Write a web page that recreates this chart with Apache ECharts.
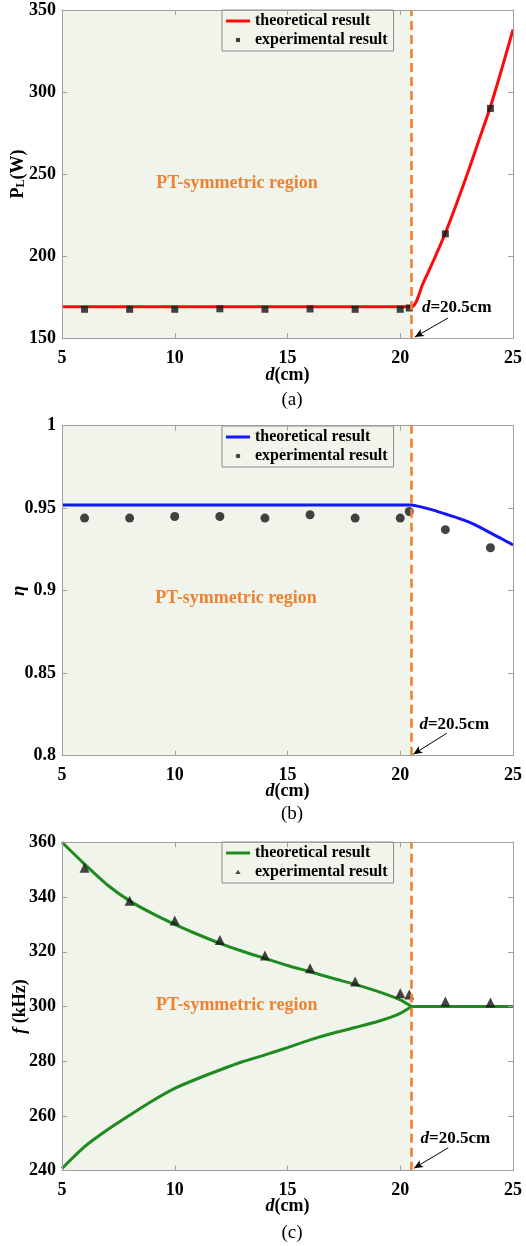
<!DOCTYPE html>
<html>
<head>
<meta charset="utf-8">
<script src="https://cdn.jsdelivr.net/npm/echarts@6/dist/echarts.min.js"></script>
<style>
  html, body { margin: 0; padding: 0; background: #fff; }
  .panel { position: absolute; left: 0; width: 526px; }
</style>
</head>
<body>
<div class="panel" id="pa" style="top:0;height:415px"></div>
<div class="panel" id="pb" style="top:415px;height:410px"></div>
<div class="panel" id="pc" style="top:825px;height:421px"></div>
<script>
// ---- data ----
const xRange = [5, 25, 5];           // min, max, interval of d (cm)
const dTheory = [5, 20.5, 21, 21.5, 22, 22.5, 23, 23.5, 24, 24.5, 25];
const dExp = [6, 8, 10, 12, 14, 16, 18, 20, 20.4, 22, 24];

// (a) load power
const pRange = [150, 350, 50];
const pTheory = [169, 169, 183, 198, 214, 232, 251, 271, 291, 314, 338];
const pExp = [167.5, 167.5, 167.5, 167.8, 167.5, 167.7, 167.5, 167.5, 168.3, 213.5, 290];

// (b) efficiency
const etaRange = [0.8, 1, 0.05];
const etaTheory = [0.952, 0.952, 0.9505, 0.9487, 0.9465, 0.9443, 0.9418, 0.9387, 0.935, 0.9315, 0.9277];
const etaExp = [0.944, 0.944, 0.945, 0.945, 0.944, 0.946, 0.944, 0.944, 0.948, 0.937, 0.926];

// (c) frequency
const fRange = [240, 360, 20];
const dBranch = [5, 6, 7, 8, 9, 10, 11, 12, 13, 14, 15, 16, 17, 18, 19, 20, 20.5];
const fUpper = [360, 352, 344.5, 338.6, 334, 330, 326.4, 323.1, 320.2, 317.6, 315, 312.7, 310.3, 308.1, 305.5, 302.4, 300];
const fLower = [240.8, 248.8, 254.9, 260.3, 265.5, 270.1, 273.6, 276.8, 279.8, 282.3, 285, 287.8, 290.2, 292.3, 294.5, 297.5, 300];
const dFlat = [20.5, 25];
const fFlat = [300, 300];
const fExp = [350.7, 338.6, 331.4, 324.3, 318.6, 314, 309.1, 304.8, 304.4, 301.8, 301.5];

const dBoundary = 20.5;

// ---- styling ----
const serif = "'Liberation Serif', 'Times New Roman', serif";
const orange = '#ee8232';
const frame = '#a0a0a0';
const shade = '#f1f4ea';
const lineIcon = 'path://M0,0M24,14M0,5.5h24v3h-24z';

const zip = (xs, ys) => xs.map((x, i) => [x, ys[i]]);

function axisBase(range) {
  return {
    type: 'value', min: range[0], max: range[1], interval: range[2], z: 6,
    axisLine: { show: true, onZero: false, lineStyle: { color: frame, width: 1 } },
    axisTick: { show: true, inside: true, length: 5, lineStyle: { color: frame } },
    splitLine: { show: false }
  };
}

const tickLabel = { color: '#000', fontFamily: serif, fontWeight: 'bold', fontSize: 18 };

function buildOption(p) {
  return {
    animation: false,
    title: {
      text: p.caption, left: 287, top: p.captionTop, textAlign: 'center',
      textStyle: { fontFamily: serif, fontWeight: 'normal', fontSize: 19, color: '#000' }
    },
    grid: { left: 62, right: 13, top: p.gridTop, height: p.gridHeight, outerBoundsMode: 'none', containLabel: false },
    legend: {
      left: 222, top: p.legendTop, orient: 'vertical',
      padding: [3, 6, 3, 4], itemGap: 3, itemWidth: 24, itemHeight: 14,
      borderColor: '#8a8a8a', borderWidth: 1,
      textStyle: { fontFamily: serif, fontWeight: 'bold', fontSize: 16, color: '#000' },
      data: [{ name: 'theoretical result', icon: lineIcon }, { name: 'experimental result', icon: p.legendIcon }]
    },
    xAxis: [
      Object.assign(axisBase(xRange), {
        position: 'bottom',
        axisLabel: Object.assign({ margin: 11 }, tickLabel),
        name: '{i|d}(cm)', nameLocation: 'middle', nameGap: p.xNameGap, nameMoveOverlap: false,
        nameTextStyle: {
          fontFamily: serif, fontWeight: 'bold', fontSize: 18, color: '#000',
          rich: { i: { fontFamily: serif, fontWeight: 'bold', fontStyle: 'italic', fontSize: 18 } }
        }
      }),
      Object.assign(axisBase(xRange), { position: 'top', axisLabel: { show: false } })
    ],
    yAxis: [
      Object.assign(axisBase(p.yRange), {
        position: 'left',
        axisLabel: Object.assign({ margin: 6 }, tickLabel),
        name: p.yName, nameLocation: 'middle', nameGap: p.yNameGap, nameMoveOverlap: false,
        nameTextStyle: {
          fontFamily: serif, fontWeight: 'bold', fontSize: 18, color: '#000',
          rich: p.yRich
        }
      }),
      Object.assign(axisBase(p.yRange), { position: 'right', axisLabel: { show: false } })
    ],
    series: [
      {
        // shaded PT-symmetric region
        name: 'bg', type: 'line', data: [], z: 1, silent: true,
        markArea: {
          silent: true, itemStyle: { color: shade },
          data: [[{ xAxis: xRange[0] }, { xAxis: dBoundary }]]
        }
      }
    ].concat(p.series).concat([
      {
        name: 'notes', type: 'line', data: [], z: 8, silent: true,
        markLine: {
          silent: true, symbol: ['none', 'none'], animation: false,
          label: { show: false },
          data: [
            { xAxis: dBoundary, lineStyle: { color: orange, width: 2.6, type: [9, 5] } },
            [
              { coord: p.arrowFrom, symbol: 'none', lineStyle: { color: '#000', width: 1, type: 'solid' } },
              { coord: p.arrowTo, symbol: 'arrow', symbolSize: [6, 9] }
            ]
          ]
        },
        markPoint: {
          silent: true, symbol: 'circle', symbolSize: 0,
          data: [
            {
              coord: p.ptCoord,
              label: {
                show: true, position: 'inside', formatter: 'PT-symmetric region',
                fontFamily: serif, fontWeight: 'bold', fontSize: 18, color: orange
              }
            },
            {
              coord: p.noteCoord,
              label: {
                show: true, position: 'right', distance: 0, formatter: '{i|d}=20.5cm',
                fontFamily: serif, fontWeight: 'bold', fontSize: 17, color: '#000',
                rich: { i: { fontFamily: serif, fontWeight: 'bold', fontStyle: 'italic', fontSize: 17, color: '#000' } }
              }
            }
          ]
        }
      }
    ])
  };
}

function theory(data, color) {
  return {
    name: 'theoretical result', type: 'line', data: data, z: 3,
    symbol: 'none', symbolKeepAspect: true, smooth: 0.2,
    lineStyle: { color: color, width: 3 }, itemStyle: { color: color }
  };
}

function experiment(data, symbol, size) {
  return {
    name: 'experimental result', type: 'scatter', data: data, z: 4,
    symbol: symbol, symbolSize: size, symbolKeepAspect: true,
    itemStyle: { color: '#151515' }
  };
}

// (a)
{
  let chart = echarts.init(document.getElementById('pa'));
  chart.setOption(buildOption({
    caption: '(a)', captionTop: 386, gridTop: 10, gridHeight: 328, legendTop: 10,
    legendIcon: 'path://M0,0M24,24M8.5,8.5h7v7h-7z',
    xNameGap: 28, yRange: pRange, yNameGap: 35,
    yName: '{b|P}{s|L}{b|(W)}',
    yRich: {
      b: { fontFamily: serif, fontWeight: 'bold', fontSize: 18, lineHeight: 18, verticalAlign: 'middle' },
      s: { fontFamily: serif, fontWeight: 'bold', fontSize: 12, lineHeight: 12, verticalAlign: 'bottom' }
    },
    series: [theory(zip(dTheory, pTheory), '#ff0a0a'), experiment(zip(dExp, pExp), 'rect', 7)],
    ptCoord: [12.76, 244], noteCoord: [20.96, 168.3],
    arrowFrom: [22.12, 162.2], arrowTo: [20.65, 150.6]
  }));
}

// (b)
{
  let chart = echarts.init(document.getElementById('pb'));
  chart.setOption(buildOption({
    caption: '(b)', captionTop: 385, gridTop: 10.7, gridHeight: 330, legendTop: 11,
    legendIcon: 'path://M0,0M24,24M8,12a4,4 0 1,0 8,0a4,4 0 1,0 -8,0z',
    xNameGap: 27, yRange: etaRange, yNameGap: 33,
    yName: '{i|η}',
    yRich: { i: { fontFamily: serif, fontWeight: 'bold', fontStyle: 'italic', fontSize: 19 } },
    series: [theory(zip(dTheory, etaTheory), '#1414ff'), experiment(zip(dExp, etaExp), 'circle', 9)],
    ptCoord: [12.72, 0.8954], noteCoord: [20.85, 0.8186],
    arrowFrom: [22.06, 0.8136], arrowTo: [20.58, 0.8009]
  }));
}

// (c)
{
  let chart = echarts.init(document.getElementById('pc'));
  const green = '#1f8a1f';
  chart.setOption(buildOption({
    caption: '(c)', captionTop: 394, gridTop: 17.3, gridHeight: 328.4, legendTop: 17,
    legendIcon: 'path://M0,0M24,24M12,8L16.5,15.5H7.5Z',
    xNameGap: 27, yRange: fRange, yNameGap: 33,
    yName: '{i|f} (kHz)',
    yRich: { i: { fontFamily: serif, fontWeight: 'bold', fontStyle: 'italic', fontSize: 18 } },
    series: [
      theory(zip(dBranch, fUpper), green),
      theory(zip(dBranch, fLower), green),
      theory(zip(dFlat, fFlat), green),
      experiment(zip(dExp, fExp), 'triangle', 10)
    ],
    ptCoord: [12.75, 300.55], noteCoord: [20.9, 251.6],
    arrowFrom: [22.13, 248.4], arrowTo: [20.61, 240.9]
  }));
}
</script>
</body>
</html>
